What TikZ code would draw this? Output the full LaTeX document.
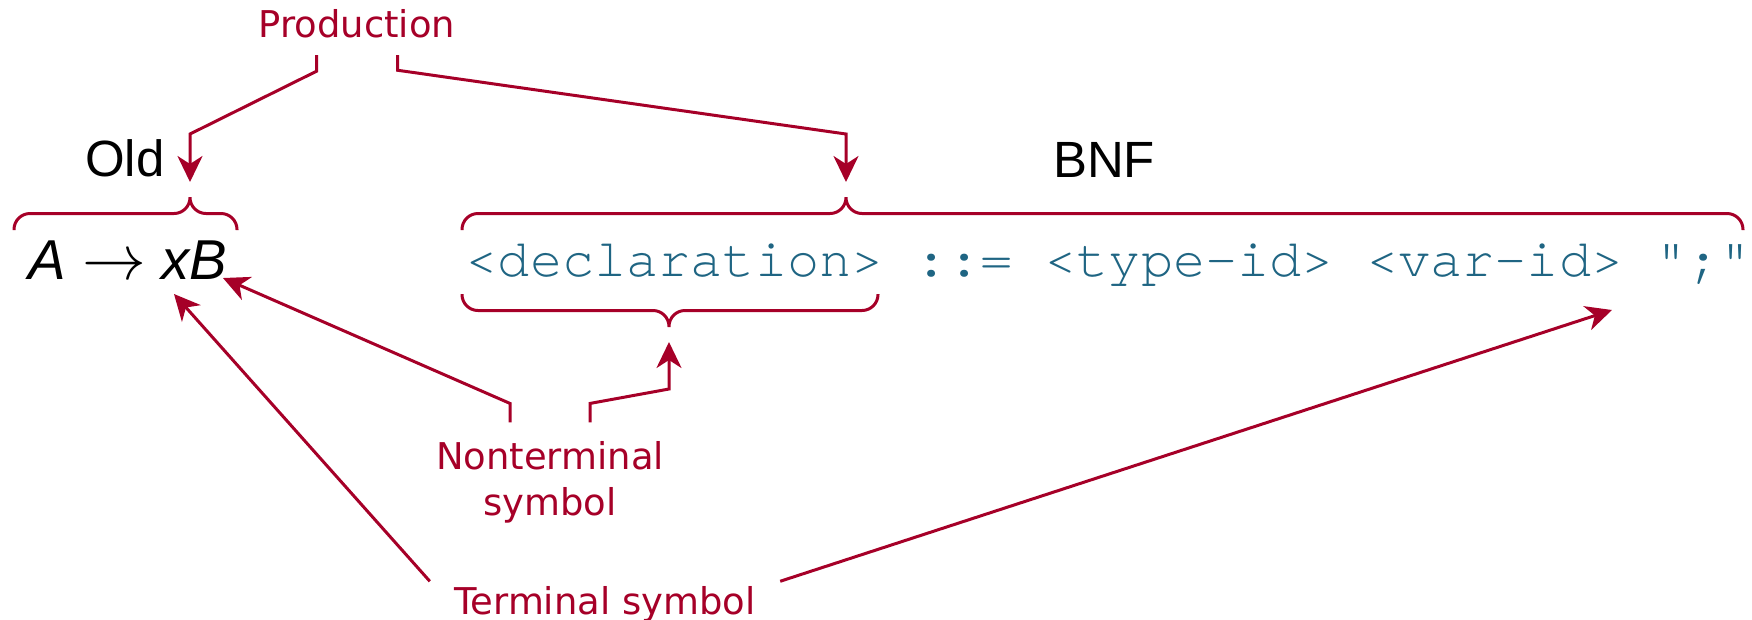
\documentclass[tikz,border=0pt]{standalone}
\usepackage{fontspec}
\setmainfont{Liberation Sans}
\newfontfamily\labelfont{DejaVu Sans}
\newfontfamily\codefont{texgyrecursor-regular.otf}
\usepackage{tikz}
\usetikzlibrary{calc}
\usetikzlibrary{positioning,arrows.meta}
\definecolor{prodred}{RGB}{166,0,40}
\definecolor{bnfteal}{RGB}{31,101,131}

\begin{document}
\begin{tikzpicture}[x=0.1mm,y=-0.1mm,>={Stealth[length=2.6mm,width=2.5mm,inset=0.8mm]},
		note/.style={text=prodred,inner sep=0pt,font=\labelfont\fontsize{10.5}{13.1}\selectfont},
		title/.style={inner sep=0pt,font=\fontsize{14.5}{17}\selectfont},
		link/.style={draw=prodred,line width=0.3mm,->},
		curly/.style={draw=prodred,line width=0.3mm,rounded corners=1.6mm}]
		\useasboundingbox (0,0) rectangle (1752,619);

		\node[note,anchor=base]   (prod)    at (357,37)   {Production};
		\node[title,anchor=base]  (old)     at (125,176)  {Old};
		\node[title,anchor=base]  (bnf)     at (1104,177) {BNF};
		\node[anchor=base,inner sep=0pt,font=\fontsize{16}{19}\selectfont]
		                          (rule)    at (128,279)  {\itshape A \scalebox{1.05}{$\rightarrow$} xB};
		\node[anchor=base west,inner sep=0pt,text=bnfteal,font=\codefont\fontsize{15.25}{18}\selectfont]
		                          (code)    at (465,276)  {<declaration> ::= <type-id> <var-id> ";"};
		\node[note,align=center]  (nonterm) at (550,482)  {Nonterminal\\symbol};
		\node[note,anchor=base]   (term)    at (605,614)  {Terminal symbol};

		\coordinate (oldtop)  at (190,197);
		\coordinate (bnftop)  at (846,197);
		\coordinate (declbot) at (669,327);
		\coordinate (Bhead)   at (223,278);
		\coordinate (xfoot)   at (174,294);
		\coordinate (semi)    at (1612,310);

		% braces
		\draw[curly] (14,230) |- (190,213.5) -- (oldtop) (237,230) |- (190,213.5) -- (oldtop);
		\draw[curly] (462,230) |- (846,213.5) -- (bnftop) (1743,230) |- (846,213.5) -- (bnftop);
		\draw[curly] (462,294) |- (669,310.5) -- (declbot) (878,294) |- (669,310.5) -- (declbot);

		% pointers
		\draw[link] ([xshift=-4.05mm,yshift=-1.7mm]prod.south) -- ++(0,16) -- (190,134) -- ([yshift=1.5mm]oldtop);
		\draw[link] ([xshift=4.05mm,yshift=-1.7mm]prod.south) -- ++(0,15) -- (846,134) -- ([yshift=1.5mm]bnftop);
		\draw[link] ([xshift=-4mm,yshift=1.8mm]nonterm.north) -- ++(0,-19) -- (Bhead);
		\draw[link] ([xshift=4mm,yshift=1.8mm]nonterm.north) -- ++(0,-19) -- (669,389) -- ([yshift=-1.5mm]declbot);
		\draw[link] ([xshift=-2.4mm,yshift=0.4mm]term.north west) -- (xfoot);
		\draw[link] ([xshift=2.4mm,yshift=0.4mm]term.north east) -- (semi);
\end{tikzpicture}
\end{document}
